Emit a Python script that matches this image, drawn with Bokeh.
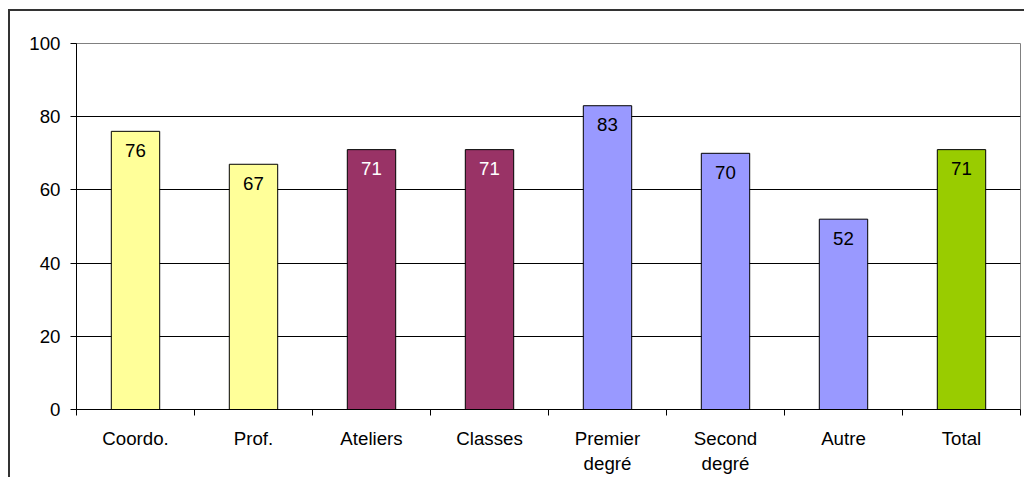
from bokeh.plotting import figure
from bokeh.models import ColumnDataSource, FixedTicker, LinearAxis, Range1d
from bokeh.core.properties import value
from bokeh.embed import file_html
from bokeh.resources import INLINE

# Share of respondents per group (%)
categories = ["Coordo.", "Prof.", "Ateliers", "Classes",
              "Premier\ndegré", "Second\ndegré", "Autre", "Total"]
values = [76, 67, 71, 71, 83, 70, 52, 71]
bar_colors = ["#FFFF99", "#FFFF99", "#993366", "#993366",
              "#9999FF", "#9999FF", "#9999FF", "#99CC00"]
label_colors = ["black", "black", "white", "white",
                "black", "black", "black", "black"]
y_ticks = [0, 20, 40, 60, 80, 100]

FONT = "Liberation Sans"
FSIZE = "18.7px"

centers = [i + 0.5 for i in range(len(categories))]
src = ColumnDataSource(dict(
    x=centers, top=values, fill=bar_colors,
    label=[str(v) for v in values], tcolor=label_colors,
))

p = figure(
    width=1030, height=490,
    x_range=Range1d(0, len(categories)), y_range=Range1d(0, 100),
    output_backend="svg", toolbar_location=None,
    min_border_left=66, min_border_right=20,
    min_border_top=32, min_border_bottom=92,
    x_axis_location=None, y_axis_location=None,
    margin=(11, 0, 0, 10),
)
# chart-area frame: its right and bottom edges run past the page
p.styles = {"box-shadow": "-2px -2px 0 0 #333333"}
p.background_fill_color = "white"
p.border_fill_color = "white"
p.outline_line_color = "#808080"
p.outline_line_width = 1

# horizontal gridlines
p.xgrid.visible = False
p.ygrid.ticker = FixedTicker(ticks=[20, 40, 60, 80])
p.ygrid.grid_line_color = "black"
p.ygrid.grid_line_width = 1

p.vbar(x="x", top="top", width=0.41, bottom=0, source=src,
       fill_color="fill", line_color="black", line_width=1)

p.text(x="x", y="top", text="label", source=src,
       text_color="tcolor", text_align="center", text_baseline="middle",
       y_offset=19, text_font_size=value(FSIZE), text_font=value(FONT))

# y axis
yax = LinearAxis(ticker=FixedTicker(ticks=y_ticks))
yax.axis_line_color = "black"
yax.major_tick_out = 6
yax.major_tick_in = 0
yax.minor_tick_line_color = None
yax.major_label_standoff = 10
yax.major_label_text_font = FONT
yax.major_label_text_font_size = FSIZE
yax.major_label_text_color = "black"
p.add_layout(yax, "left")

# x axis: tick marks between categories, labels at the centres
xax = LinearAxis(ticker=FixedTicker(ticks=centers,
                                    minor_ticks=list(range(len(categories) + 1))))
xax.major_label_overrides = {c: name for c, name in zip(centers, categories)}
xax.axis_line_color = "black"
xax.major_tick_line_color = None
xax.major_tick_out = 6
xax.major_tick_in = 0
xax.minor_tick_line_color = "black"
xax.minor_tick_out = 6
xax.minor_tick_in = 0
xax.major_label_standoff = 12
xax.major_label_text_font = FONT
xax.major_label_text_font_size = FSIZE
xax.major_label_text_color = "black"
p.add_layout(xax, "below")

html = file_html(p, INLINE)
# the page itself never scrolls
html = html.replace("<head>", "<head>\n<style>html, body { margin: 0; padding: 0; overflow: hidden; }</style>", 1)
open("out.html", "w").write(html)
